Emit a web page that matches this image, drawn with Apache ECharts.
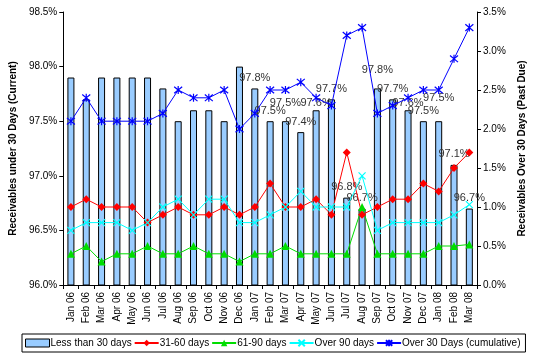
<!DOCTYPE html>
<html><head><meta charset="utf-8">
<script src="https://cdn.jsdelivr.net/npm/echarts@6/dist/echarts.min.js"></script>
<style>html,body{margin:0;padding:0;background:#fff}#c{width:535px;height:357px}</style>
</head><body><div id="c"></div>
<script>
var categories = ['Jan 06','Feb 06','Mar 06','Apr 06','May 06','Jun 06','Jul 06','Aug 06','Sep 06','Oct 06','Nov 06','Dec 06',
  'Jan 07','Feb 07','Mar 07','Apr 07','May 07','Jun 07','Jul 07','Aug 07','Sep 07','Oct 07','Nov 07','Dec 07','Jan 08','Feb 08','Mar 08'];
var lessThan30 = [97.9,97.7,97.9,97.9,97.9,97.9,97.8,97.5,97.6,97.6,97.5,98.0,97.8,97.5,97.5,97.4,97.6,97.7,96.8,96.7,97.8,97.7,97.6,97.5,97.5,97.1,96.7];
var d31to60 = [1.0,1.1,1.0,1.0,1.0,0.8,0.9,1.0,0.9,0.9,1.0,0.9,1.0,1.3,1.0,1.0,1.1,0.9,1.7,0.9,1.0,1.1,1.1,1.3,1.2,1.5,1.7];
var d61to90 = [0.4,0.5,0.3,0.4,0.4,0.5,0.4,0.4,0.5,0.4,0.4,0.3,0.4,0.4,0.5,0.4,0.4,0.4,0.4,1.0,0.4,0.4,0.4,0.4,0.5,0.5,0.52];
var over90 = [0.7,0.8,0.8,0.8,0.7,0.8,1.0,1.1,0.9,1.1,1.1,0.8,0.8,0.9,1.0,1.2,1.0,1.0,1.0,1.4,0.7,0.8,0.8,0.8,0.8,0.9,1.03];
var over30cum = [2.1,2.4,2.1,2.1,2.1,2.1,2.2,2.5,2.4,2.4,2.5,2.0,2.2,2.5,2.5,2.6,2.4,2.3,3.2,3.3,2.2,2.3,2.4,2.5,2.5,2.9,3.3];
var leftTicks = [96.0, 96.5, 97.0, 97.5, 98.0, 98.5];
var rightTicks = [0.0, 0.5, 1.0, 1.5, 2.0, 2.5, 3.0, 3.5];
var labelFromIndex = 12;

var font = 'Liberation Sans, Arial, sans-serif';
var chart = echarts.init(document.getElementById('c'), null, {renderer:'canvas'});
var xMark = 'path://M0,0L10,10M10,0L0,10';
var starMark = 'path://M0,0L10,10M10,0L0,10M5,-1L5,11';
// style: extra lift for a few value labels so they don't collide (as in the original)
var labelLift = {14: 8, 16: -3, 20: 8, 22: -3, 24: 13};

var barData = lessThan30.map(function(v, i){
  return {value: v, label: {show: i >= labelFromIndex, distance: 5 + (labelLift[i] || 0)}};
});

function lineSeries(name, data, color, symbol, size, stroke){
  return {
    name: name, type: 'line', yAxisIndex: 1, data: data,
    symbol: symbol, symbolSize: size,
    lineStyle: {color: color, width: 1},
    itemStyle: stroke ? {color: 'rgba(0,0,0,0)', borderColor: color, borderWidth: 1.2} : {color: color},
    emphasis: {disabled: true}, animation: false, z: 3
  };
}

chart.setOption({
  animation: false,
  textStyle: {fontFamily: font},
  grid: {left: 60, right: 54, top: 12, bottom: 72},
  legend: {
    left: 22, bottom: 5, width: 520,
    borderColor: '#000', borderWidth: 1, padding: [4, 5, 4, 3],
    itemGap: 2, itemWidth: 24, itemHeight: 8,
    textStyle: {fontFamily: font, fontSize: 10, color: '#000', padding: [0, 0, 0, -4]},
    data: [
      {name: 'Less than 30 days', icon: 'rect', itemStyle: {color: '#99CCFF', borderColor: '#000', borderWidth: 1}},
      '31-60 days', '61-90 days', 'Over 90 days', 'Over 30 Days (cumulative)'
    ]
  },
  xAxis: {
    type: 'category', data: categories,
    axisLine: {lineStyle: {color: '#000', width: 1}},
    axisTick: {show: true, alignWithLabel: false, length: 4, lineStyle: {color: '#000'}},
    axisLabel: {rotate: 90, fontSize: 10, color: '#000', fontFamily: font, interval: 0, margin: 7}
  },
  yAxis: [{
    type: 'value', min: leftTicks[0], max: leftTicks[leftTicks.length-1], interval: 0.5,
    name: 'Receivables under 30 Days (Current)', nameLocation: 'middle', nameGap: 44,
    nameTextStyle: {fontSize: 10, fontWeight: 'bold', color: '#000', fontFamily: font},
    axisLine: {show: true, lineStyle: {color: '#000'}},
    axisTick: {show: true, length: 4, lineStyle: {color: '#000'}},
    splitLine: {show: false},
    axisLabel: {fontSize: 10, color: '#000', fontFamily: font, margin: 6, formatter: function(v){return v.toFixed(1)+'%';}}
  }, {
    type: 'value', min: rightTicks[0], max: rightTicks[rightTicks.length-1], interval: 0.5,
    name: 'Receivables Over 30 Days (Past Due)', nameLocation: 'middle', nameGap: 40, nameRotate: 90,
    nameTextStyle: {fontSize: 10, fontWeight: 'bold', color: '#000', fontFamily: font},
    axisLine: {show: true, lineStyle: {color: '#000'}},
    axisTick: {show: true, length: 4, lineStyle: {color: '#000'}},
    splitLine: {show: false},
    axisLabel: {fontSize: 10, color: '#000', fontFamily: font, margin: 6, formatter: function(v){return v.toFixed(1)+'%';}}
  }],
  series: [
    {
      name: 'Less than 30 days', type: 'bar', data: barData, barWidth: 7,
      itemStyle: {color: '#99CCFF', borderColor: '#000', borderWidth: 1},
      label: {show: false, position: 'top', distance: 5, fontSize: 11, color: '#333', fontFamily: font,
        formatter: function(p){return p.value.toFixed(1)+'%';}},
      emphasis: {disabled: true}, z: 2
    },
    lineSeries('31-60 days', d31to60, '#FF0000', 'diamond', 8, false),
    lineSeries('61-90 days', d61to90, '#00DD00', 'triangle', 8, false),
    lineSeries('Over 90 days', over90, '#00FFFF', xMark, 7, true),
    lineSeries('Over 30 Days (cumulative)', over30cum, '#0000FF', starMark, 8, true)
  ]
});
</script></body></html>
